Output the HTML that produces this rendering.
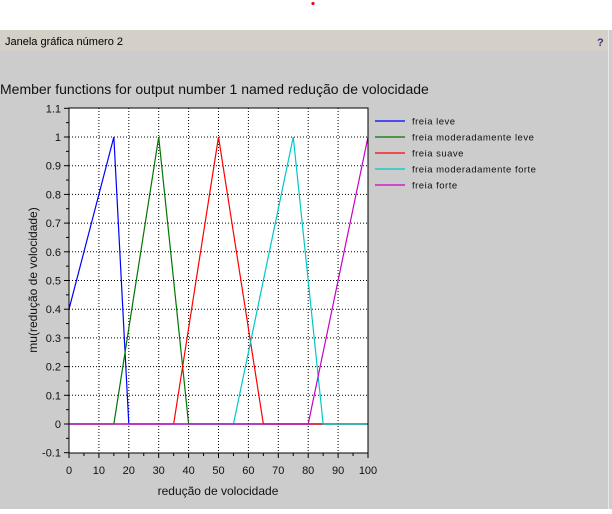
<!DOCTYPE html>
<html><head><meta charset="utf-8"><style>
body{margin:0;width:612px;height:509px;overflow:hidden;background:#fff;font-family:"Liberation Sans",sans-serif}
</style></head><body>
<svg width="612" height="509" xmlns="http://www.w3.org/2000/svg">
<rect x="0" y="0" width="612" height="30" fill="#fff"/>
<circle cx="313" cy="3.5" r="1.6" fill="#e01010"/>
<rect x="0" y="30" width="612" height="479" fill="#cccccc"/>
<rect x="0" y="30" width="608" height="21" fill="#d4d0c8"/>
<line x1="608.5" y1="30" x2="608.5" y2="509" stroke="#e8e8e8"/>
<text x="5" y="45" font-size="11" fill="#000">Janela gráfica número 2</text>
<text x="597" y="46" font-size="11" font-weight="bold" fill="#4a2a7a">?</text>
<text x="0" y="94" font-size="14" fill="#111">Member functions for output number 1 named redução de volocidade</text>
<rect x="69" y="108" width="299" height="345" fill="#fff"/>
<g id="grid"></g>
<g id="series"></g>
<rect x="69" y="108" width="299" height="345" fill="none" stroke="#000"/>
<g id="axes"></g>
<text x="218" y="495" font-size="12" text-anchor="middle" fill="#111">redução de volocidade</text>
<text transform="translate(37,280) rotate(-90)" font-size="12" text-anchor="middle" fill="#111">mu(redução de volocidade)</text>
<g id="legend"></g>
</svg>
<script>
const names=["freia leve","freia moderadamente leve","freia suave","freia moderadamente forte","freia forte"];
const colors=["#0000ff","#007700","#ff0000","#00c8c8","#c800c8"];
const xs0=[0,15,20,100], ys0=[0.4,1,0,0];
const xs1=[0,15,30,40,100], ys1=[0,0,1,0,0];
const xs2=[0,35,50,65,100], ys2=[0,0,1,0,0];
const xs3=[0,55,75,85,100], ys3=[0,0,1,0,0];
const xs4=[0,80,100], ys4=[0,0,1];
const xTicks=[0,10,20,30,40,50,60,70,80,90,100];
const yTicks=[-0.1,0,0.1,0.2,0.3,0.4,0.5,0.6,0.7,0.8,0.9,1,1.1];
const NS="http://www.w3.org/2000/svg";
const X=v=>69+v*2.99, Y=v=>424-v*287;
function mk(t,a,p){const e=document.createElementNS(NS,t);for(const k in a)e.setAttribute(k,a[k]);p.appendChild(e);return e;}
const grid=document.getElementById('grid'),axes=document.getElementById('axes'),ser=document.getElementById('series'),leg=document.getElementById('legend');
xTicks.forEach((v,i)=>{
 if(i>0&&i<xTicks.length-1){const g=mk('line',{x1:X(v),x2:X(v),y1:108,y2:453,stroke:'#000','stroke-dasharray':'1,2'},grid);
 
 }
 const t=mk('line',{x1:X(v),x2:X(v),y1:453,y2:458,stroke:'#000'},axes);
 
 
 if(i<xTicks.length-1){const m=mk('line',{x1:X(v+5),x2:X(v+5),y1:453,y2:456,stroke:'#000'},axes);
 
 }
 const l=mk('text',{x:X(v),y:474,'font-size':11,'text-anchor':'middle',fill:'#111'},axes);l.textContent=v;
 
 
});
yTicks.forEach((v,i)=>{
 if(i>0&&i<yTicks.length-1){const g=mk('line',{x1:69,x2:368,y1:Y(v),y2:Y(v),stroke:'#000','stroke-dasharray':'1,2'},grid);
 
 }
 const t=mk('line',{x1:64,x2:69,y1:Y(v),y2:Y(v),stroke:'#000'},axes);
 
 
 if(i<yTicks.length-1){const m=mk('line',{x1:66,x2:69,y1:Y(v+0.05),y2:Y(v+0.05),stroke:'#000'},axes);
 
 }
 const l=mk('text',{x:61,y:Y(v)+4,'font-size':11,'text-anchor':'end',fill:'#111'},axes);l.textContent=Math.round(v*10)/10;
 
 
});
[[xs0,ys0],[xs1,ys1],[xs2,ys2],[xs3,ys3],[xs4,ys4]].forEach(([xs,ys],i)=>{
 const p=mk('polyline',{points:xs.map((x,j)=>X(x)+','+Y(ys[j])).join(' '),fill:'none',stroke:colors[i],'stroke-width':1.2},ser);
 
 
 const ly=121+i*16;
 const ll=mk('line',{x1:375,x2:405,y1:ly,y2:ly,stroke:colors[i],'stroke-width':1.2},leg);
 
 
 const lt=mk('text',{x:412,y:ly+3.5,'font-size':9.5,fill:'#111','letter-spacing':'0.5'},leg);lt.textContent=names[i];
 
 
});
</script>
</body></html>
